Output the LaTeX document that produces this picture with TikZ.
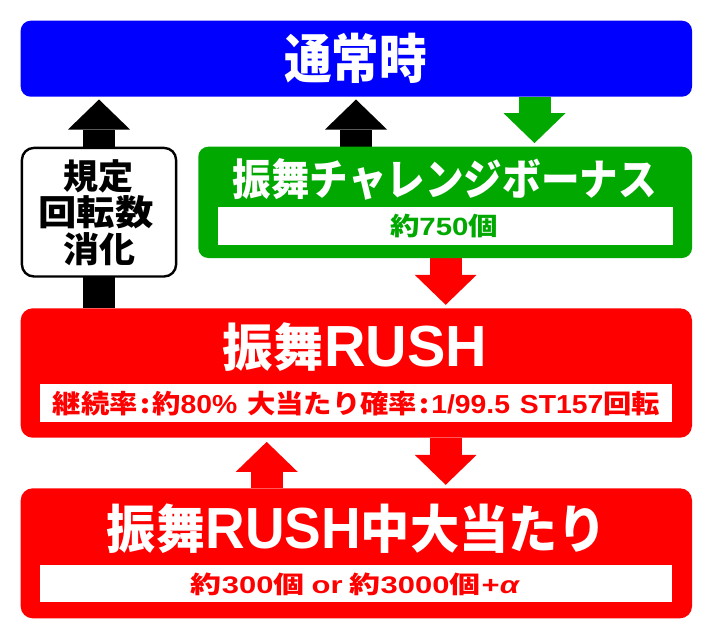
\documentclass[tikz,border=0pt]{standalone}
\usepackage{graphicx}
\usepackage{fontspec}
\newfontfamily\jp{Noto Sans CJK JP}
\newfontfamily\lat{Liberation Sans}
\usetikzlibrary{arrows.meta,backgrounds}
\definecolor{cblue}{RGB}{0,0,255}
\definecolor{cgreen}{RGB}{0,168,0}
\definecolor{cred}{RGB}{255,0,0}
\newcommand\fsz[1]{\fontsize{#1}{#1}\selectfont}
\newcommand\fitw[2]{\resizebox{#1}{\height}{#2}}
\tikzset{
  box/.style={rectangle, inner sep=0pt, draw=none},
  inbox/.style={rectangle, inner sep=0pt, fill=white, draw=none},
  txt/.style={inner sep=0pt, outer sep=0pt, anchor=center},
  blockarrow/.style={line width=32pt, -{Triangle[length=30pt,width=62pt,line width=0pt]}},
}
\begin{document}
\begin{tikzpicture}[x=1pt,y=-1pt]
\useasboundingbox (0,0) rectangle (712,640);
% x positions of the arrows
\coordinate (lx) at (99,0);
\coordinate (mx) at (356,0);
\coordinate (gx) at (534.5,0);
\coordinate (rx) at (445.7,0);
\coordinate (ux) at (266.7,0);
% boxes
\node[box, fill=cblue, rounded corners=10pt, minimum width=671.3pt, minimum height=76pt] (blue) at (356.35,58.7) {};
\node[box, fill=cgreen, rounded corners=10pt, minimum width=493.7pt, minimum height=111.3pt] (green) at (445.15,202.35) {};
\node[inbox, minimum width=454.4pt, minimum height=37.7pt] (gin) at (445.5,226.2) {};
\node[box, fill=white, draw=black, line width=2.4pt, rounded corners=12pt, minimum width=154.2pt, minimum height=128.6pt] (wbox) at (99,212.2) {};
\node[box, fill=cred, rounded corners=12pt, minimum width=671.3pt, minimum height=129.4pt] (rush) at (356.35,373) {};
\node[inbox, minimum width=632pt, minimum height=37.7pt] (rin) at (356,402.9) {};
\node[box, fill=cred, rounded corners=12pt, minimum width=671.3pt, minimum height=130pt] (bot) at (356.35,553.3) {};
\node[inbox, minimum width=632pt, minimum height=37pt] (bin) at (356,583.5) {};
% texts
\node[txt, text=white] (t1) at (355.5,58.5) {\fitw{143pt}{\fsz{53}\jp\bfseries 通常時}};
\node[txt, text=white] (t2) at (444.7,179) {\fitw{424pt}{\fsz{43}\jp\bfseries 振舞チャレンジボーナス}};
\node[txt, text=cgreen] (t3) at (444,226) {\fitw{108pt}{\fsz{25}\jp\bfseries 約{\lat\bfseries 750}個}};
\node[txt, text=black] (t4a) at (98,176) {\fitw{70pt}{\fsz{35}\jp\bfseries 規定}};
\node[txt, text=black] (t4b) at (96,212.5) {\fitw{115pt}{\fsz{35}\jp\bfseries 回転数}};
\node[txt, text=black] (t4c) at (99,249) {\fitw{72pt}{\fsz{35}\jp\bfseries 消化}};
\node[txt, text=white] (t5) at (355,347.5) {\fitw{264pt}{\fsz{51}\jp\bfseries 振舞{\lat\bfseries\fsz{58}RUSH}}};
\node[txt, text=cred] (t6) at (356.5,403.5) {\fitw{607pt}{\fsz{26}\jp\bfseries 継続率\kern2pt:\kern2pt 約{\lat\bfseries 80\%}\hspace{9pt}大当たり確率\kern2pt:\kern2pt{\lat\bfseries 1/99.5\hspace{9pt}ST157}回転}};
\node[txt, text=white] (t7) at (357,529) {\fitw{500pt}{\fsz{52}\jp\bfseries 振舞{\lat\bfseries\fsz{58}RUSH}中大当たり}};
\node[txt, text=cred] (t8) at (355,584) {\fitw{328pt}{\fsz{24}\jp\bfseries 約{\lat\bfseries 300}個 {\lat\bfseries or} 約{\lat\bfseries 3000}個{\lat\bfseries\kern1pt+}{\lat\itshape α}}};
% arrows (behind boxes)
\begin{pgfonlayer}{background}
\fill[white] (0,0) rectangle (712,640);
\draw[blockarrow, black, shorten >=2.6pt] (rush.north -| lx) -- (blue.south -| lx);
\draw[blockarrow, black, shorten >=2.6pt] (green.north -| mx) -- (blue.south -| mx);
\draw[blockarrow, cgreen, shorten >=3.4pt] (blue.south -| gx) -- (green.north -| gx);
\draw[blockarrow, cred, shorten >=3.3pt] (green.south -| rx) -- (rush.north -| rx);
\draw[blockarrow, cred, shorten >=3.3pt] (rush.south -| rx) -- (bot.north -| rx);
\draw[blockarrow, cred, shorten >=4pt] (bot.north -| ux) -- (rush.south -| ux);
\end{pgfonlayer}
\end{tikzpicture}
\end{document}
